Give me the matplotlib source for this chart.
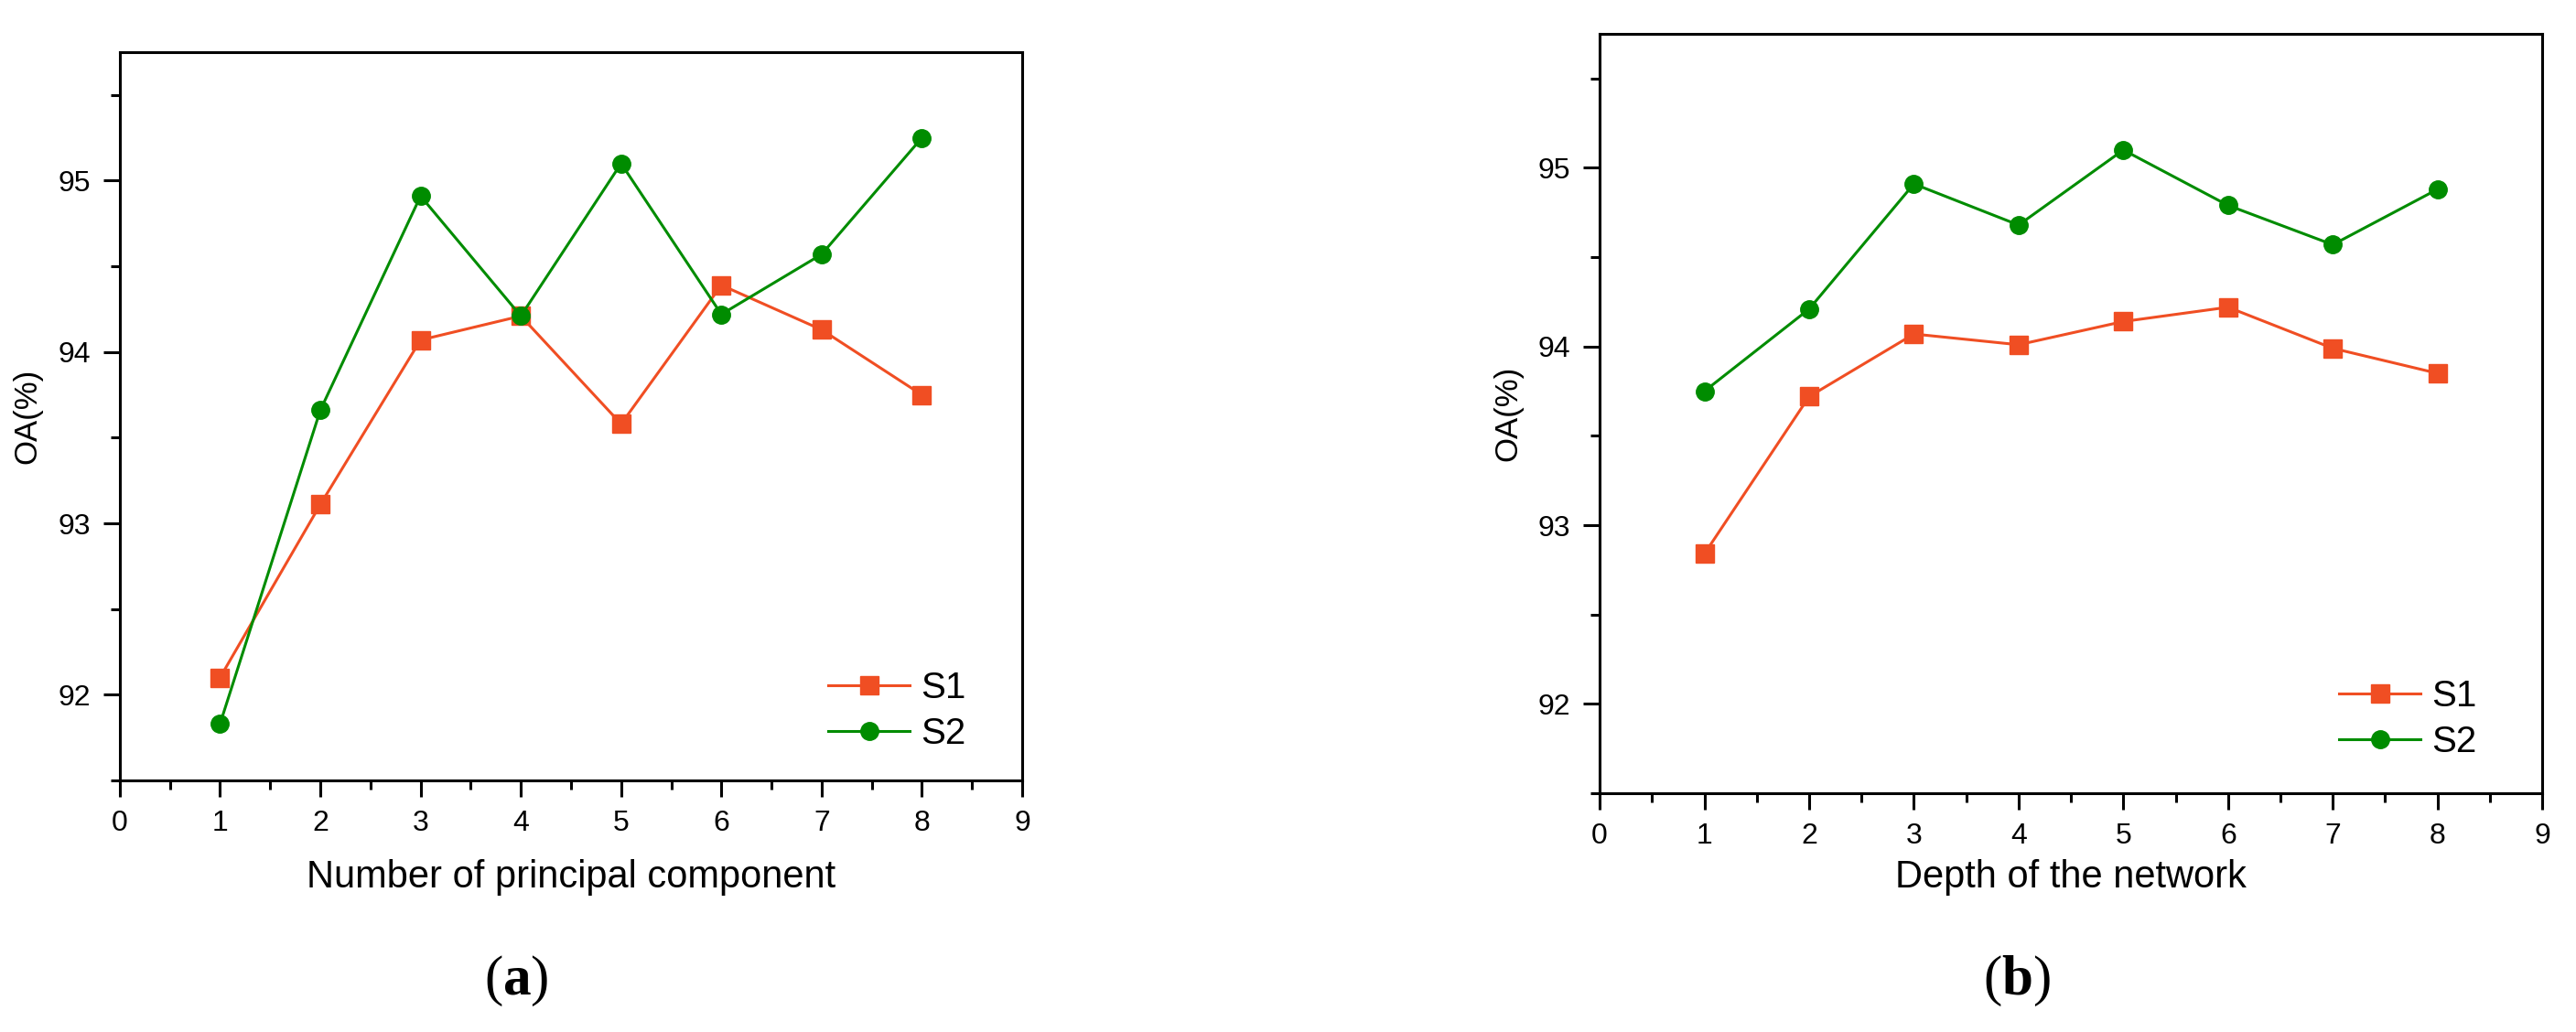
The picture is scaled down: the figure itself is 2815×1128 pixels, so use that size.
import matplotlib
matplotlib.use("Agg")
import matplotlib.pyplot as plt
from matplotlib.ticker import MultipleLocator

plt.rcParams["font.family"] = ["Liberation Sans", "DejaVu Sans"]
plt.rcParams["mathtext.fontset"] = "custom"
plt.rcParams["mathtext.rm"] = "Liberation Serif"
plt.rcParams["mathtext.bf"] = "Liberation Serif:bold"

x_vals = [1, 2, 3, 4, 5, 6, 7, 8]

# (a) number of principal components
pc_s1 = [92.10, 93.11, 94.07, 94.21, 93.58, 94.39, 94.13, 93.75]
pc_s2 = [91.83, 93.66, 94.91, 94.21, 95.10, 94.22, 94.57, 95.25]

# (b) depth of the network
depth_s1 = [92.84, 93.72, 94.07, 94.01, 94.14, 94.22, 93.99, 93.85]
depth_s2 = [93.75, 94.21, 94.91, 94.68, 95.10, 94.79, 94.57, 94.88]

xlabels = ["Number of principal component", "Depth of the network"]
panel_tags = [r"($\mathbf{a}$)", r"($\mathbf{b}$)"]

RED = "#F04E23"
GREEN = "#008C00"

fig = plt.figure(figsize=(28.15, 11.28), dpi=100)
ax_a = fig.add_axes([0.0465, 0.2438, 0.3503, 0.7057])
ax_b = fig.add_axes([0.6210, 0.2314, 0.3659, 0.7358])

panels = [(ax_a, pc_s1, pc_s2, -0.108, (0.765, 0.015)),
          (ax_b, depth_s1, depth_s2, -0.087, (0.765, 0.02))]

for i, (ax, s1, s2, xlab_y, leg_pos) in enumerate(panels):
    ax.plot(x_vals, s1, color=RED, marker="s", markersize=14, linewidth=2.2, label="S1")
    ax.plot(x_vals, s2, color=GREEN, marker="o", markersize=14, linewidth=2.2, label="S2")
    ax.set_xlim(0, 9)
    ax.set_ylim(91.5, 95.75)
    ax.xaxis.set_major_locator(MultipleLocator(1))
    ax.xaxis.set_minor_locator(MultipleLocator(0.5))
    ax.yaxis.set_major_locator(MultipleLocator(1))
    ax.yaxis.set_minor_locator(MultipleLocator(0.5))
    ax.tick_params(which="major", direction="out", length=13, width=2.2, labelsize=23, pad=10)
    ax.tick_params(which="minor", direction="out", length=7, width=2.2)
    for sp in ax.spines.values():
        sp.set_linewidth(2.2)
    ax.set_xlabel(xlabels[i], fontsize=30)
    ax.xaxis.set_label_coords(0.5, xlab_y)
    ax.set_ylabel("OA(%)", fontsize=25, labelpad=12)
    ax.legend(loc="lower left", bbox_to_anchor=leg_pos, frameon=False, fontsize=29,
              handlelength=2.2, handletextpad=0.3, labelspacing=0.3, borderpad=0)

fig.text(564 / 2815, 1 - 1072 / 1128, panel_tags[0], fontsize=44, ha="center", va="center",
         family="Liberation Serif")
fig.text(2204 / 2815, 1 - 1072 / 1128, panel_tags[1], fontsize=44, ha="center", va="center",
         family="Liberation Serif")

fig.savefig("out.png", dpi=100)
